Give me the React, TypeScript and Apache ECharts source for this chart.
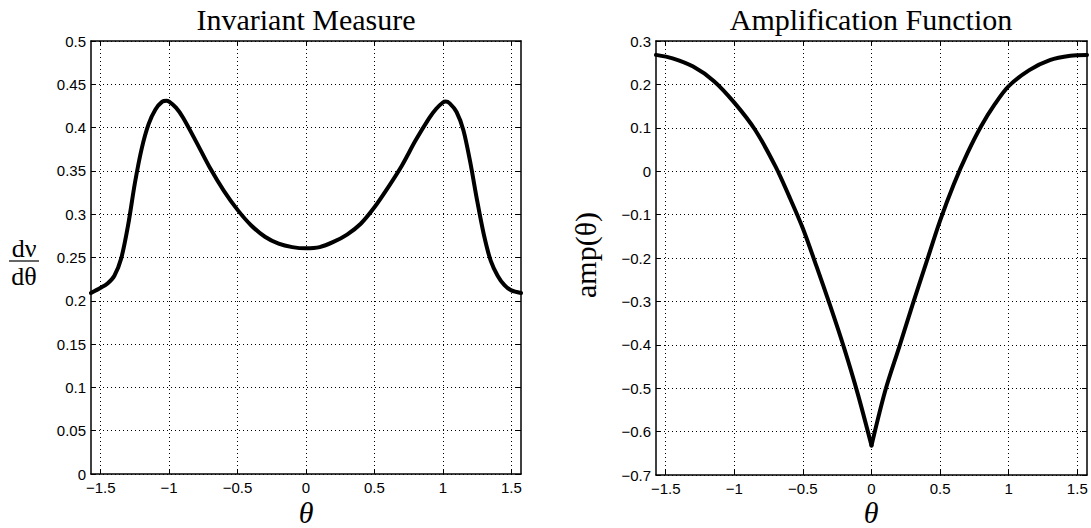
import React, { useEffect, useRef } from "react";
import * as echarts from "echarts";

const HALF_PI = Math.PI / 2;
const xTicks = [-1.5, -1, -0.5, 0, 0.5, 1, 1.5];

const titles = ["Invariant Measure", "Amplification Function"];

// Invariant measure dν/dθ
const measureTheta = [
  -1.5708, -1.5, -1.45, -1.4, -1.35, -1.3, -1.25, -1.2, -1.15, -1.1, -1.05, -1.02, -1.0,
  -0.95, -0.9, -0.8, -0.7, -0.6, -0.5, -0.4, -0.3, -0.2, -0.1, 0,
  0.1, 0.2, 0.3, 0.4, 0.5, 0.6, 0.7, 0.8, 0.9, 0.95, 1.0, 1.02, 1.05, 1.1, 1.15, 1.2,
  1.25, 1.3, 1.35, 1.4, 1.45, 1.5, 1.5708,
];
const measureValue = [
  0.209, 0.215, 0.22, 0.229, 0.249, 0.287, 0.336, 0.376, 0.404, 0.421, 0.43, 0.431, 0.43,
  0.423, 0.412, 0.383, 0.353, 0.327, 0.305, 0.287, 0.274, 0.266, 0.262, 0.2606,
  0.262, 0.268, 0.2765, 0.289, 0.308, 0.331, 0.356, 0.385, 0.411, 0.4215, 0.429, 0.43,
  0.428, 0.418, 0.397, 0.36, 0.316, 0.276, 0.246, 0.229, 0.218, 0.212, 0.209,
];

// Amplification function amp(θ), split at the cusp θ = 0
const ampThetaLeft = [
  -1.5708, -1.45, -1.3, -1.15, -1.0, -0.85, -0.7, -0.6, -0.5, -0.4, -0.3, -0.2, -0.1, 0,
];
const ampValueLeft = [
  0.268, 0.26, 0.241, 0.208, 0.158, 0.096, 0.011, -0.058, -0.132, -0.22, -0.311, -0.407,
  -0.513, -0.632,
];
const ampThetaRight = [
  0, 0.1, 0.2, 0.3, 0.4, 0.5, 0.6, 0.7, 0.8, 0.9, 1.0, 1.15, 1.3, 1.45, 1.5708,
];
const ampValueRight = [
  -0.632, -0.506, -0.407, -0.307, -0.21, -0.114, -0.03, 0.042, 0.104, 0.155, 0.196,
  0.233, 0.256, 0.266, 0.268,
];

const pairs = (xs: number[], ys: number[]) => xs.map((x, i) => [x, ys[i]]);

const SANS = '"Liberation Sans", Arial, Helvetica, sans-serif';
const SERIF = '"Liberation Serif", "Times New Roman", serif';

const fmt = (v: number) => {
  const n = Number(Number(v).toFixed(3));
  return String(n).replace("-", "\u2212");
};

const dotted = { color: "#000", width: 1, type: [1, 3] as any };

function xAxes(gridIndex: number) {
  const common = {
    gridIndex,
    type: "value",
    min: -HALF_PI,
    max: HALF_PI,
    axisLine: { show: true, onZero: false, lineStyle: { color: "#000", width: 1.5 } },
  };
  return [
    {
      ...common,
      position: "bottom",
      axisTick: { show: true, inside: true, length: 5, customValues: xTicks, lineStyle: { color: "#000", width: 1 } },
      axisLabel: { show: true, customValues: xTicks, formatter: fmt, color: "#000", fontFamily: SANS, fontSize: 15, margin: 6 },
      splitLine: { show: true, lineStyle: dotted },
    },
    {
      ...common,
      position: "top",
      axisTick: { show: true, inside: true, length: 5, customValues: xTicks, lineStyle: { color: "#000", width: 1 } },
      axisLabel: { show: false },
      splitLine: { show: false },
    },
  ];
}

function yAxes(gridIndex: number, min: number, max: number, interval: number) {
  const common = {
    gridIndex,
    type: "value",
    min,
    max,
    interval,
    axisLine: { show: true, onZero: false, lineStyle: { color: "#000", width: 1.5 } },
    axisTick: { show: true, inside: true, length: 5, lineStyle: { color: "#000", width: 1 } },
  };
  return [
    {
      ...common,
      position: "left",
      axisLabel: { show: true, formatter: fmt, color: "#000", fontFamily: SANS, fontSize: 15, margin: 5 },
      splitLine: { show: true, lineStyle: dotted },
    },
    {
      ...common,
      position: "right",
      axisLabel: { show: false },
      splitLine: { show: false },
    },
  ];
}

export default function App() {
  const ref = useRef<HTMLDivElement>(null);
  useEffect(() => {
    if (!ref.current) return;
    const chart = echarts.init(ref.current, null, { renderer: "svg" });
    const lineStyle = { color: "#000", width: 4, cap: "round", join: "round" };
    const lineSeries = (xi: number, data: number[][]) => ({
      type: "line",
      xAxisIndex: xi,
      yAxisIndex: xi,
      data,
      showSymbol: false,
      smooth: 0.3,
      lineStyle,
    });
    chart.setOption({
      animation: false,
      backgroundColor: "#fff",
      grid: [
        { left: 91, top: 41, width: 430, height: 433 },
        { left: 656, top: 41, width: 431, height: 434 },
      ],
      xAxis: [...xAxes(0), ...xAxes(1)],
      yAxis: [...yAxes(0, 0, 0.5, 0.05), ...yAxes(1, -0.7, 0.3, 0.1)],
      series: [
        lineSeries(0, pairs(measureTheta, measureValue)),
        lineSeries(2, pairs(ampThetaLeft, ampValueLeft)),
        lineSeries(2, pairs(ampThetaRight, ampValueRight)),
      ],
      graphic: [
        {
          type: "text",
          x: 306,
          y: 19,
          style: { text: titles[0], font: `30px ${SERIF}`, fill: "#000", textAlign: "center", textVerticalAlign: "middle" },
        },
        {
          type: "text",
          x: 871,
          y: 19,
          style: { text: titles[1], font: `30px ${SERIF}`, fill: "#000", textAlign: "center", textVerticalAlign: "middle" },
        },
        {
          type: "text",
          x: 306,
          y: 512,
          style: { text: "θ", font: `italic 30px ${SERIF}`, fill: "#000", textAlign: "center", textVerticalAlign: "middle" },
        },
        {
          type: "text",
          x: 871,
          y: 512,
          style: { text: "θ", font: `italic 30px ${SERIF}`, fill: "#000", textAlign: "center", textVerticalAlign: "middle" },
        },
        {
          type: "text",
          x: 24,
          y: 248,
          style: { text: "dν", font: `26px ${SERIF}`, fill: "#000", textAlign: "center", textVerticalAlign: "middle" },
        },
        {
          type: "line",
          shape: { x1: 9, y1: 261, x2: 39, y2: 261 },
          style: { stroke: "#000", lineWidth: 1.2 },
        },
        {
          type: "text",
          x: 24,
          y: 276,
          style: { text: "dθ", font: `26px ${SERIF}`, fill: "#000", textAlign: "center", textVerticalAlign: "middle" },
        },
        {
          type: "text",
          x: 585,
          y: 255,
          rotation: Math.PI / 2,
          style: { text: "amp(θ)", font: `30px ${SERIF}`, fill: "#000", textAlign: "center", textVerticalAlign: "middle" },
        },
      ],
    });
    return () => chart.dispose();
  }, []);
  return <div ref={ref} style={{ position: "fixed", left: 0, top: 0, width: 1091, height: 528 }} />;
}
